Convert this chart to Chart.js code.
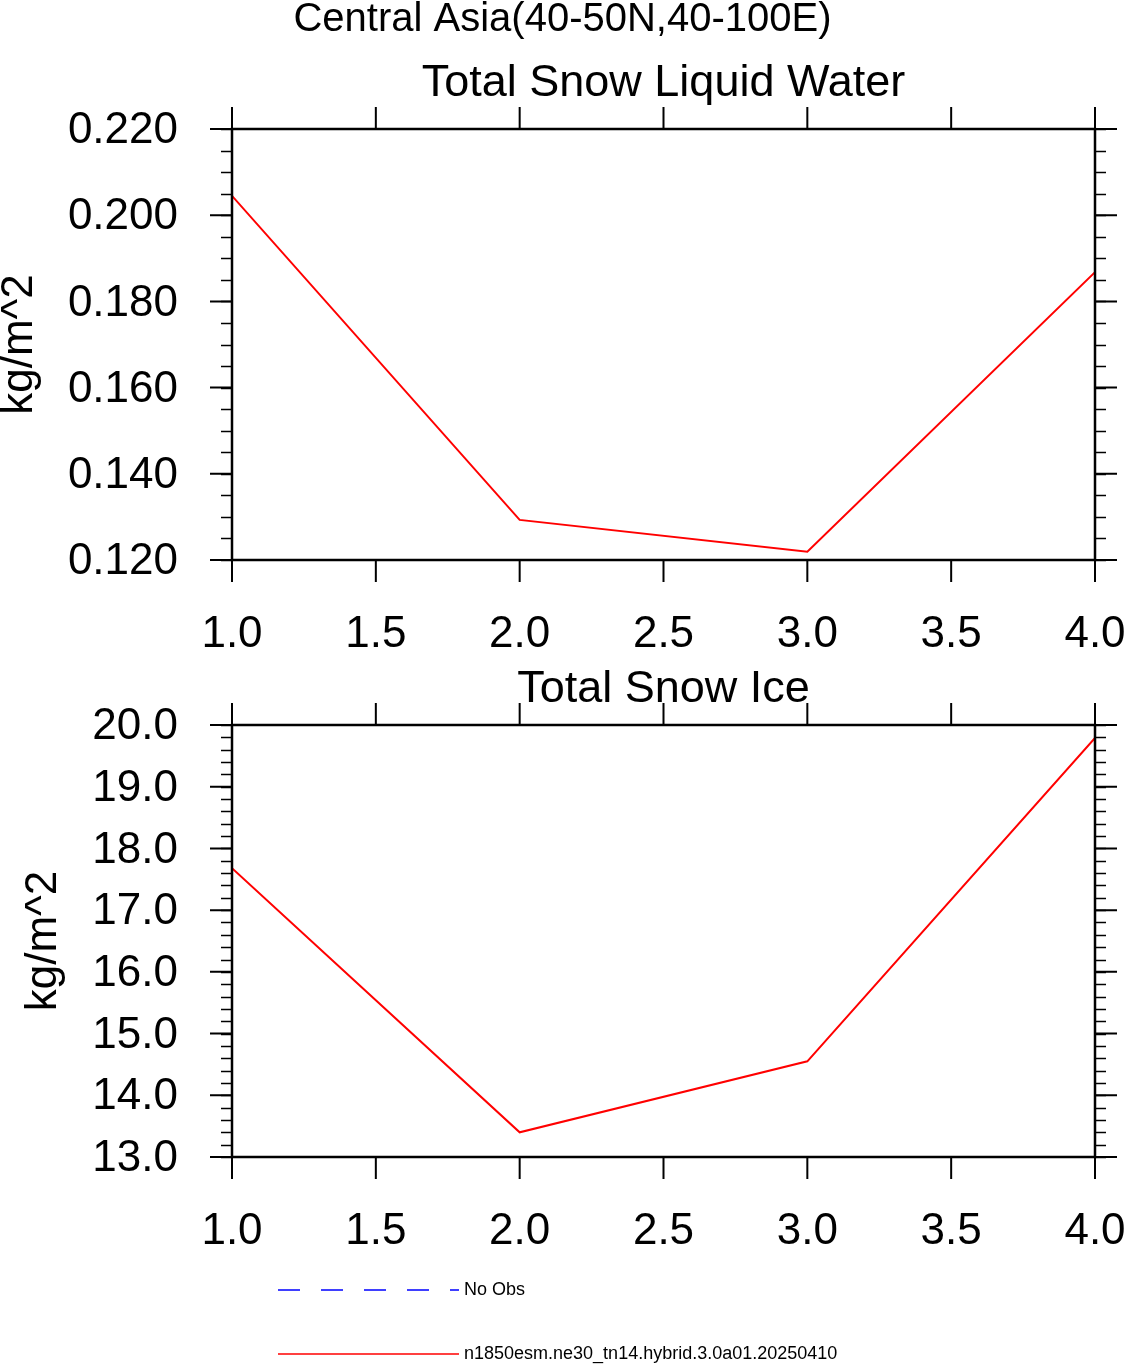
<!DOCTYPE html>
<html>
<head>
<meta charset="utf-8">
<script src="https://cdn.jsdelivr.net/npm/chart.js@4.4.1/dist/chart.umd.min.js"></script>
<style>
  html, body { margin: 0; padding: 0; background: #fff; }
  #wrap { position: relative; width: 1125px; height: 1364px; }
  #wrap canvas { position: absolute; left: 0; top: 0; }
</style>
</head>
<body>
<div id="wrap">
  <canvas id="liquid" width="1125" height="1364"></canvas>
  <canvas id="ice" width="1125" height="1364"></canvas>
</div>
<script>
const mainTitle = "Central Asia(40-50N,40-100E)";
const unitLabel = "kg/m^2";

const xValues = [1, 2, 3, 4];
const xTicks = [1.0, 1.5, 2.0, 2.5, 3.0, 3.5, 4.0];

const liquidTitle = "Total Snow Liquid Water";
const liquidValues = [0.2045, 0.1293, 0.1219, 0.1868];
const liquidTicks = [0.12, 0.14, 0.16, 0.18, 0.20, 0.22];

const iceTitle = "Total Snow Ice";
const iceValues = [17.68, 13.40, 14.55, 19.79];
const iceTicks = [13, 14, 15, 16, 17, 18, 19, 20];

const obsName = "No Obs";
const obsValues = [];
const caseName = "n1850esm.ne30_tn14.hybrid.3.0a01.20250410";

const FONT = "'Liberation Sans', Arial, Helvetica, sans-serif";

// NCL-like frame: border box, outward major/minor ticks on all sides, titles, legend
const nclFrame = {
  id: "nclFrame",
  afterDraw(chart, args, o) {
    const { ctx, chartArea: a, scales: { x, y } } = chart;
    ctx.save();
    ctx.strokeStyle = "#000";

    ctx.lineWidth = 1.5;
    ctx.beginPath();
    const n = Math.round((y.max - y.min) / o.minor);
    for (let i = 0; i <= n; i++) {
      const py = Math.round(y.getPixelForValue(y.min + i * o.minor)) + 0.5;
      ctx.moveTo(a.left - 11, py); ctx.lineTo(a.left, py);
      ctx.moveTo(a.right, py); ctx.lineTo(a.right + 11, py);
    }
    ctx.stroke();

    ctx.lineWidth = 2;
    ctx.beginPath();
    y.ticks.forEach(t => {
      const py = y.getPixelForValue(t.value);
      ctx.moveTo(a.left - 22, py); ctx.lineTo(a.left, py);
      ctx.moveTo(a.right, py); ctx.lineTo(a.right + 22, py);
    });
    x.ticks.forEach(t => {
      const px = x.getPixelForValue(t.value);
      ctx.moveTo(px, a.bottom); ctx.lineTo(px, a.bottom + 22);
      ctx.moveTo(px, a.top - 22); ctx.lineTo(px, a.top);
    });
    ctx.stroke();

    ctx.lineWidth = 2.5;
    ctx.strokeRect(a.left, a.top, a.right - a.left, a.bottom - a.top);

    ctx.fillStyle = "#000";
    ctx.textAlign = "center";
    ctx.textBaseline = "alphabetic";
    ctx.font = "45px " + FONT;
    ctx.fillText(o.title, (a.left + a.right) / 2, a.top - o.titleGap);

    if (o.mainTitle) {
      ctx.font = "40px " + FONT;
      ctx.fillText(o.mainTitle, chart.width / 2, 31);
    }

    if (o.legend) {
      ctx.textAlign = "left";
      ctx.textBaseline = "middle";
      ctx.font = "18px " + FONT;
      chart.data.datasets.forEach((ds, i) => {
        const ly = o.legend.y[i];
        ctx.beginPath();
        ctx.setLineDash(ds.borderDash || []);
        ctx.strokeStyle = ds.borderColor;
        ctx.lineWidth = 1.5;
        ctx.moveTo(o.legend.x0, ly);
        ctx.lineTo(o.legend.x1, ly);
        ctx.stroke();
        ctx.setLineDash([]);
        ctx.fillText(ds.label, o.legend.x1 + 5, ly);
      });
    }
    ctx.restore();
  }
};

function makeChart(id, values, yTicks, minor, digits, opts) {
  return new Chart(document.getElementById(id), {
    type: "line",
    data: {
      datasets: [
        {
          label: obsName,
          data: obsValues,
          borderColor: "#0000ff",
          borderWidth: 1.5,
          borderDash: [22, 21],
          pointRadius: 0
        },
        {
          label: caseName,
          data: xValues.map((xv, i) => ({ x: xv, y: values[i] })),
          borderColor: "#ff0000",
          borderWidth: 2,
          pointRadius: 0,
          tension: 0
        }
      ]
    },
    options: {
      responsive: false,
      animation: false,
      events: [],
      layout: { padding: { top: opts.top, bottom: opts.bottom, left: 0, right: 30 } },
      plugins: {
        legend: { display: false },
        tooltip: { enabled: false },
        nclFrame: {
          minor: minor,
          title: opts.title,
          titleGap: opts.titleGap,
          mainTitle: opts.mainTitle,
          legend: opts.legend
        }
      },
      scales: {
        x: {
          type: "linear",
          min: 1,
          max: 4,
          afterFit: s => { s.height = 100; s.paddingLeft = 0; s.paddingRight = 0; },
          afterBuildTicks: s => { s.ticks = xTicks.map(v => ({ value: v })); },
          grid: { display: false },
          border: { display: false },
          ticks: {
            padding: 40,
            color: "#000",
            maxRotation: 0,
            autoSkip: false,
            font: { family: FONT, size: 44 },
            callback: v => Number(v).toFixed(1)
          }
        },
        y: {
          type: "linear",
          min: yTicks[0],
          max: yTicks[yTicks.length - 1],
          afterFit: s => { s.width = 232; s.paddingTop = 0; s.paddingBottom = 0; },
          afterBuildTicks: s => { s.ticks = yTicks.map(v => ({ value: v })); },
          grid: { display: false },
          border: { display: false },
          ticks: {
            padding: 46,
            labelOffset: 2,
            color: "#000",
            autoSkip: false,
            font: { family: FONT, size: 44 },
            callback: v => Number(v).toFixed(digits)
          },
          title: {
            display: true,
            text: unitLabel,
            color: "#000",
            font: { family: FONT, size: 44, lineHeight: 1 },
            padding: { top: opts.unitPad, bottom: 0 }
          }
        }
      }
    },
    plugins: [nclFrame]
  });
}

makeChart("liquid", liquidValues, liquidTicks, 0.005, 3, {
  top: 129, bottom: 704, title: liquidTitle, titleGap: 33, unitPad: -2, mainTitle: mainTitle
});

makeChart("ice", iceValues, iceTicks, 0.2, 1, {
  top: 725, bottom: 107, title: iceTitle, titleGap: 23, unitPad: 22,
  legend: { x0: 278, x1: 459, y: [1290, 1354] }
});
</script>
</body>
</html>
